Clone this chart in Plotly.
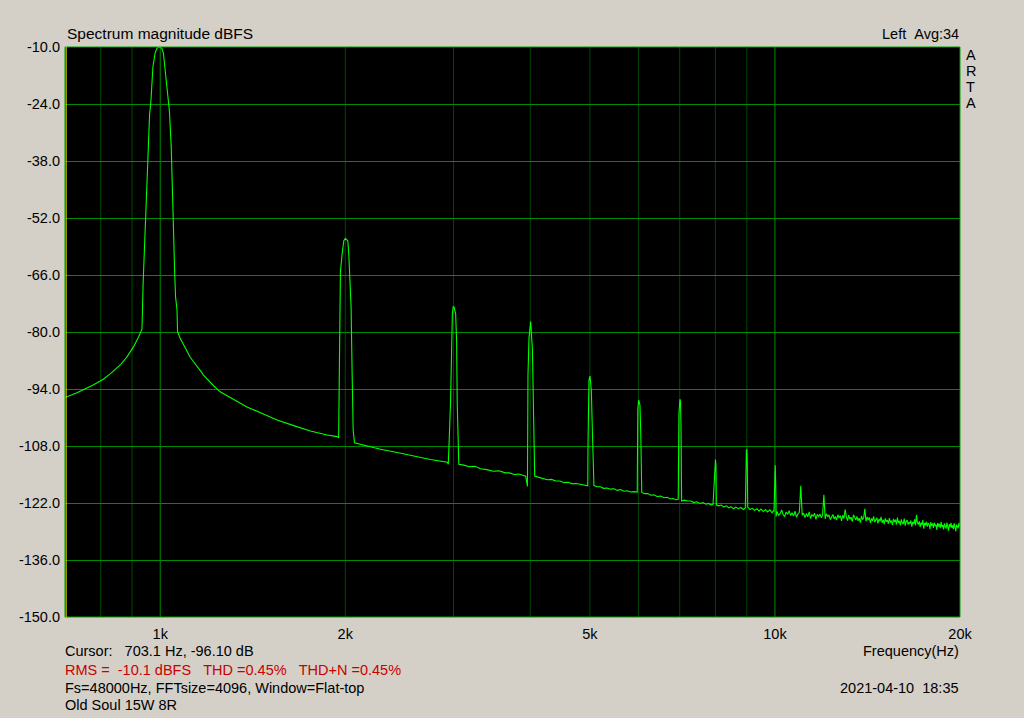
import numpy as np
import plotly.graph_objects as go

# ---------------- data ----------------
FS_HZ = 48000
FFT_SIZE = 4096
BIN_HZ = FS_HZ / FFT_SIZE

# Spectrum below ~10 kHz: skirt of the fundamental, harmonics and floor
spec_freq_hz = [
    700, 732, 778, 808, 829, 861, 883, 905, 922, 934,
    938, 943, 949, 955, 961, 966, 973, 981, 988, 997, 1006, 1012, 1022, 1035,
    1042, 1047, 1050, 1055, 1059, 1065, 1067, 1078, 1091, 1105, 1119, 1133,
    1147, 1162, 1176, 1192, 1221, 1252, 1284, 1316, 1350, 1384, 1456, 1549,
    1649, 1755, 1868, 1940, 1951,
    1954, 1959, 1964, 1977, 1989, 2001, 2010, 2019, 2026, 2034, 2044, 2052,
    2060, 2070, 2150, 2282, 2430, 2586, 2750, 2931, 2942,
    2967, 2977, 2987, 2996, 3004, 3024, 3035, 3042, 3053, 3060,
    3120, 3180, 3250, 3320, 3400, 3480, 3560, 3640, 3700, 3763, 3830, 3890,
    3931, 3957,
    3965, 3980, 3995, 4005, 4031, 4046, 4066,
    4130, 4200, 4264, 4330, 4400, 4470, 4540, 4610, 4680, 4750, 4831, 4900,
    4960,
    4965, 4983, 5002, 5027, 5046, 5076,
    5140, 5200, 5260, 5330, 5400, 5473, 5540, 5610, 5680, 5750, 5829, 5900,
    5970,
    5983, 6003, 6032, 6050, 6072,
    6140, 6210, 6280, 6350, 6430, 6521, 6600, 6680, 6760, 6830, 6901, 6960,
    6980, 7005, 7020, 7033, 7050,
    7120, 7200, 7298, 7380, 7460, 7550, 7640, 7720, 7800, 7867, 7930,
    7985, 8003, 8018, 8030,
    8100, 8180, 8260, 8340, 8410, 8480, 8560, 8640, 8720, 8800, 8880, 8950,
    8985, 9003, 9015, 9030,
    9110, 9190, 9270, 9350, 9420, 9490, 9570, 9650, 9730, 9810, 9890, 9940,
    9965, 9995, 10010, 10030, 10045,
]
spec_level_db = [
    -96.1, -94.9, -93.0, -91.6, -90.3, -88.1, -86.1, -83.6, -81.2, -79.3,
    -68.0, -58.0, -48.4, -33.6, -26.5, -23.0, -14.9, -11.5, -10.3, -10.0,
    -10.3, -11.5, -18.1, -25.7, -34.5, -42.7, -52.5, -64.3, -71.3, -74.6,
    -79.9, -81.6, -83.2, -84.8, -86.2, -87.3, -88.5, -89.5, -90.6, -91.6,
    -93.2, -94.7, -95.7, -96.7, -97.5, -98.4, -99.8, -101.6, -103.0, -104.3,
    -105.3, -105.7, -106.0,
    -89.7, -75.4, -65.2, -60.7, -57.6, -57.0, -57.2, -57.6, -60.6, -66.9,
    -73.8, -90.1, -104.0, -107.2, -107.8, -108.8, -109.6, -110.5, -111.3,
    -112.0, -112.5,
    -97.1, -82.4, -75.5, -73.8, -73.8, -75.5, -82.4, -97.5, -112.0, -112.5,
    -112.7, -113.1, -113.0, -113.6, -113.8, -114.2, -114.1, -114.6, -114.6,
    -115.0, -114.9, -115.3, -115.4, -117.9,
    -90.6, -81.5, -78.4, -77.4, -84.2, -97.1, -115.4,
    -115.7, -116.0, -116.3, -116.2, -116.6, -116.6, -117.0, -116.9, -117.3,
    -117.2, -117.5, -117.7, -117.8,
    -107.3, -91.8, -90.8, -94.3, -104.0, -117.7,
    -118.0, -118.0, -118.4, -118.3, -118.6, -118.5, -118.9, -118.7, -119.1,
    -119.0, -119.3, -119.2, -119.3,
    -98.8, -96.7, -98.0, -105.3, -119.4,
    -119.7, -119.7, -120.1, -120.0, -120.4, -120.3, -120.7, -120.6, -121.0,
    -120.9, -121.2, -121.1,
    -100.0, -96.5, -97.0, -102.5, -121.5,
    -121.3, -121.5, -121.5, -121.9, -121.7, -122.1, -121.9, -122.3, -122.1,
    -122.5, -122.3,
    -113.0, -111.3, -113.0, -122.5,
    -122.7, -122.5, -123.0, -122.7, -123.2, -122.9, -123.4, -123.0, -123.4,
    -123.1, -123.6, -123.2,
    -109.0, -108.8, -112.0, -123.0,
    -123.6, -123.3, -123.8, -123.4, -124.0, -123.5, -124.1, -123.6, -124.2,
    -123.7, -124.4, -123.9,
    -124.0, -114.8, -112.7, -118.0, -125.3,
]

# Floor above 10 kHz, one value every 5th FFT bin starting at bin 860
noise_first_bin = 860
noise_bin_step = 5
noise_level_db = [
    -124.1, -125.0, -124.6, -123.7, -124.9, -125.3, -124.2, -124.8, -123.9, -125.1,
    -124.4, -125.2, -124.0, -125.5, -124.7, -124.3, -117.8, -125.0, -124.5, -125.6,
    -124.6, -125.4, -124.2, -125.8, -124.9, -125.2, -124.5, -126.0, -124.8, -125.3,
    -124.7, -125.6, -125.0, -120.0, -125.9, -124.6, -125.4, -124.9, -126.1, -125.2,
    -124.8, -125.9, -125.3, -126.2, -124.9, -125.7, -125.1, -126.4, -125.0, -125.8,
    -123.6, -125.4, -126.3, -125.0, -126.0, -125.5, -126.6, -124.9, -125.8, -126.2,
    -125.3, -126.4, -125.7, -126.8, -125.2, -126.1, -125.6, -123.4, -126.5, -125.4,
    -126.2, -125.5, -126.9, -125.8, -126.4, -125.3, -126.7, -126.0, -125.6, -127.0,
    -125.9, -126.5, -125.4, -126.9, -126.1, -127.2, -125.8, -126.6, -126.2, -127.1,
    -125.7, -126.8, -126.3, -127.4, -125.9, -126.7, -126.1, -127.3, -125.6, -126.9,
    -126.4, -127.5, -126.0, -126.9, -127.2, -125.8, -127.6, -126.5, -126.2, -127.3,
    -126.7, -127.1, -126.3, -127.8, -126.6, -127.2, -126.0, -127.5, -124.9, -126.8,
    -127.3, -126.5, -127.9, -126.8, -127.4, -126.2, -128.3, -126.9, -127.5, -126.6,
    -127.8, -126.9, -127.2, -128.4, -126.7, -127.6, -127.0, -128.1, -126.8, -127.7,
    -127.3, -128.6, -126.9, -127.8, -127.1, -128.2, -126.6, -127.9, -127.4, -128.5,
    -127.0, -127.7, -128.3, -126.8, -127.6, -128.8, -127.2, -127.9, -126.9, -128.1,
    -127.5, -128.4, -127.0, -127.8, -128.9, -127.3, -127.6, -128.2, -126.9, -127.7,
]

y_tick_db = [-150, -136, -122, -108, -94, -80, -66, -52, -38, -24, -10]
y_tick_text = ["%.1f" % v for v in y_tick_db]
x_tick_hz = [1000, 2000, 5000, 10000, 20000]
x_tick_text = ["1k", "2k", "5k", "10k", "20k"]
major_grid_hz = [1000, 10000]
minor_grid_hz = [800, 900, 2000, 3000, 4000, 5000, 6000, 7000, 8000, 9000]
cursor_hz = 703.1

# ---------------- assemble trace ----------------
noise_freq_hz = (noise_first_bin + noise_bin_step * np.arange(len(noise_level_db))) * BIN_HZ
freq = np.concatenate([np.array(spec_freq_hz, float), noise_freq_hz])
level = np.concatenate([np.array(spec_level_db, float), np.array(noise_level_db, float)])
order = np.argsort(freq)
freq, level = freq[order], level[order]

# ---------------- layout geometry (pixels) ----------------
W, H = 1024, 718
PL, PR, PT, PB = 65, 960, 47, 617
BG = "#D4D0C8"
FONT = "Liberation Sans, Arial, sans-serif"
GRID_MAJOR = "#008C00"
GRID_MINOR = "#004800"


def px(xp, yp):
    return (xp - PL) / (PR - PL), (PB - yp) / (PB - PT)


def ann(text, xp, yp, xanchor="left", color="black", size=14.5):
    x, y = px(xp, yp)
    return dict(text=text, x=x, y=y, xref="paper", yref="paper",
                xanchor=xanchor, yanchor="middle", showarrow=False,
                font=dict(family=FONT, size=size, color=color))


fig = go.Figure()
fig.add_trace(go.Scatter(x=freq, y=level, mode="lines",
                         line=dict(color="#00FF00", width=1.1),
                         hoverinfo="skip", showlegend=False))

shapes = []
for f in minor_grid_hz:
    shapes.append(dict(type="line", xref="x", yref="paper", x0=f, x1=f, y0=0, y1=1,
                       line=dict(color=GRID_MINOR, width=1), layer="below"))
for f in major_grid_hz:
    shapes.append(dict(type="line", xref="x", yref="paper", x0=f, x1=f, y0=0, y1=1,
                       line=dict(color=GRID_MAJOR, width=1), layer="below"))
shapes.append(dict(type="rect", xref="paper", yref="paper", x0=0, x1=1, y0=0, y1=1,
                   line=dict(color="#00A000", width=1), layer="above"))
shapes.append(dict(type="line", xref="x", yref="paper", x0=cursor_hz, x1=cursor_hz,
                   y0=0, y1=1, line=dict(color="#E0E000", width=1), layer="above"))

nb = "\u00a0"
annotations = [
    ann("Spectrum magnitude dBFS", 65, 34, size=15.5),
    ann("Left" + nb * 2 + "Avg:34", 961, 34, xanchor="right"),
    ann("A", 970.5, 55, xanchor="center"), ann("R", 970.5, 71, xanchor="center"),
    ann("T", 970.5, 87, xanchor="center"), ann("A", 970.5, 103, xanchor="center"),
    ann("Frequency(Hz)", 961, 651, xanchor="right"),
    ann("Cursor:" + nb * 3 + "703.1 Hz, -96.10 dB", 63, 651),
    ann("RMS =" + nb * 2 + "-10.1 dBFS" + nb * 3 + "THD =0.45%" + nb * 3 + "THD+N =0.45%",
        63, 670, color="#C80000"),
    ann("Fs=48000Hz, FFTsize=4096, Window=Flat-top", 63, 688),
    ann("2021-04-10" + nb * 2 + "18:35", 961, 688, xanchor="right"),
    ann("Old Soul 15W 8R", 63, 705),
]

fig.update_layout(
    width=W, height=H, autosize=False,
    margin=dict(l=PL, r=W - PR, t=PT, b=H - PB, pad=0),
    paper_bgcolor=BG, plot_bgcolor="black",
    font=dict(family=FONT, size=14.5, color="black"),
    shapes=shapes, annotations=annotations, showlegend=False,
)
fig.update_xaxes(type="log", range=[np.log10(700), np.log10(20000)],
                 tickvals=x_tick_hz, ticktext=x_tick_text, showgrid=False,
                 zeroline=False, showline=False, ticks="", ticklabelstandoff=6,
                 tickfont=dict(family=FONT, size=14.5, color="black"))
fig.update_yaxes(range=[-150, -10], tickvals=y_tick_db, ticktext=y_tick_text,
                 showgrid=True, gridcolor=GRID_MAJOR, gridwidth=1, zeroline=False,
                 showline=False, ticks="", ticklabelstandoff=4,
                 tickfont=dict(family=FONT, size=14.5, color="black"))

fig.write_html("out.html", config={"displayModeBar": False},
               post_script="document.body.style.margin='0';"
                           "document.body.style.overflow='hidden';")
